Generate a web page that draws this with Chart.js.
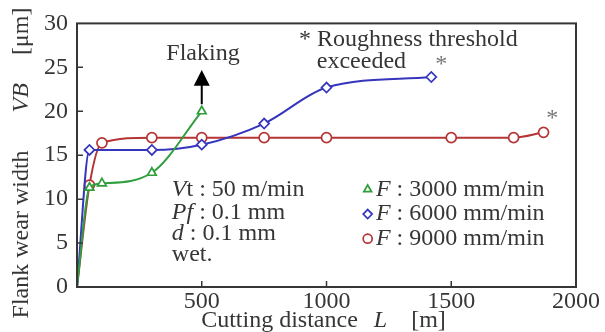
<!DOCTYPE html>
<html>
<head>
<meta charset="utf-8">
<script src="https://cdn.jsdelivr.net/npm/chart.js@4"></script>
<style>
  body { margin: 0; background: #fff; }
  #wrap { width: 605px; height: 332px; }
</style>
</head>
<body>
<div id="wrap"><canvas id="wearChart" width="605" height="332"></canvas></div>
<script>
// Data
const dist3000 = [0, 50, 100, 300, 500];
const wear3000 = [0, 11.3, 11.8, 13.0, 20.0];
const dist6000 = [0, 50, 300, 500, 750, 1000, 1420];
const wear6000 = [0, 15.6, 15.6, 16.2, 18.6, 22.7, 23.9];
const dist9000 = [0, 50, 100, 300, 500, 750, 1000, 1500, 1750, 1870];
const wear9000 = [0, 11.6, 16.4, 17.0, 17.0, 17.0, 17.0, 17.0, 17.0, 17.6];
const seriesLabels = ['3000 mm/min', '6000 mm/min', '9000 mm/min'];
const xTicks = [0, 500, 1000, 1500, 2000];
const yTicks = [0, 5, 10, 15, 20, 25, 30];

const GREEN = '#2f9e3c', BLUE = '#3535bd', RED = '#b53434', INK = '#363636';
const FONT = '"Liberation Serif", "DejaVu Serif", serif';

const toPoints = (xs, ys) => xs.map((x, i) => ({ x: x, y: ys[i] }));
// no marker on the origin point
const radii = n => Array.from({ length: n }, (_, i) => i === 0 ? 0 : 5);

function makeSet(label, xs, ys, color, style) {
    return {
        label: label,
        data: toPoints(xs, ys),
        borderColor: color,
        backgroundColor: '#fff',
        borderWidth: 2,
        pointStyle: style,
        pointRadius: radii(xs.length),
        pointBorderWidth: 1.7,
        pointBackgroundColor: '#fff',
        cubicInterpolationMode: 'monotone',
        fill: false
    };
}

// draws pieces of text (some italic) on one line; a number means a gap in px
function drawRuns(ctx, runs, x, y, align, size) {
    size = size || 24;
    const fontOf = r => (r[1] ? 'italic ' : '') + size + 'px ' + FONT;
    let total = 0;
    runs.forEach(r => {
        if (typeof r === 'number') { total += r; return; }
        ctx.font = fontOf(r);
        total += ctx.measureText(r[0]).width;
    });
    let cx = align === 'center' ? x - total / 2 : x;
    ctx.textAlign = 'left';
    ctx.textBaseline = 'middle';
    runs.forEach(r => {
        if (typeof r === 'number') { cx += r; return; }
        ctx.font = fontOf(r);
        ctx.fillText(r[0], cx, y);
        cx += ctx.measureText(r[0]).width;
    });
}

const extras = {
    id: 'extras',
    afterDatasetsDraw(chart) {
        const ctx = chart.ctx;
        const a = chart.chartArea;
        const xs = chart.scales.x, ys = chart.scales.y;
        const px = v => xs.getPixelForValue(v), py = v => ys.getPixelForValue(v);
        ctx.save();

        // frame
        ctx.strokeStyle = INK;
        ctx.lineWidth = 2;
        ctx.strokeRect(a.left, a.top, a.right - a.left, a.bottom - a.top);

        // inward tick marks
        ctx.lineWidth = 1.5;
        ctx.beginPath();
        yTicks.slice(1, -1).forEach(v => { ctx.moveTo(a.left, py(v)); ctx.lineTo(a.left + 6, py(v)); });
        xTicks.slice(1, -1).forEach(v => { ctx.moveTo(px(v), a.bottom); ctx.lineTo(px(v), a.bottom - 6); });
        ctx.stroke();

        ctx.fillStyle = INK;

        // axis titles
        drawRuns(ctx, [['Cutting distance', false], 16, ['L', true], 24, ['[m]', false]],
            (a.left + a.right) / 2 - 3, 321, 'center', 24);
        ctx.save();
        ctx.translate(22, 163);
        ctx.rotate(-Math.PI / 2);
        drawRuns(ctx, [['Flank wear width', false], 38, ['VB', true], 28, ['[μm]', false]],
            0, 0, 'center', 24);
        ctx.restore();

        // flaking note and arrow
        drawRuns(ctx, [['Flaking', false]], px(505), py(26.5), 'center');
        ctx.strokeStyle = '#000';
        ctx.fillStyle = '#000';
        ctx.lineWidth = 2;
        ctx.beginPath();
        ctx.moveTo(px(500), py(20.8));
        ctx.lineTo(px(500), py(23));
        ctx.stroke();
        ctx.beginPath();
        ctx.moveTo(px(500), py(24.7));
        ctx.lineTo(px(500) - 8, py(22.9));
        ctx.lineTo(px(500) + 8, py(22.9));
        ctx.closePath();
        ctx.fill();

        // roughness note
        ctx.fillStyle = INK;
        drawRuns(ctx, [['* Roughness threshold', false]], px(890), py(28.2), 'left');
        drawRuns(ctx, [['exceeded', false]], px(1140), py(25.6), 'center');
        ctx.fillStyle = '#777';
        drawRuns(ctx, [['*', false]], px(1460), py(25.3), 'center');
        drawRuns(ctx, [['*', false]], px(1905), py(19.2), 'center');

        // cutting conditions
        ctx.fillStyle = INK;
        const cx = px(380);
        drawRuns(ctx, [['V', true], ['t : 50 m/min', false]], cx, py(11.1), 'left');
        drawRuns(ctx, [['Pf', true], [' : 0.1 mm', false]], cx, py(8.5), 'left');
        drawRuns(ctx, [['d', true], [' : 0.1 mm', false]], cx, py(6.1), 'left');
        drawRuns(ctx, [['wet.', false]], cx, py(3.7), 'left');

        // legend
        const rows = [11.1, 8.3, 5.5];
        chart.data.datasets.forEach((ds, i) => {
            const y = py(rows[i]);
            const mx = px(1165);
            ctx.strokeStyle = ds.borderColor;
            ctx.fillStyle = '#fff';
            ctx.lineWidth = 1.7;
            Chart.helpers.drawPoint(ctx, { pointStyle: ds.pointStyle, radius: 4.5, rotation: 0, borderWidth: 1.7 }, mx, y);
            ctx.fillStyle = INK;
            drawRuns(ctx, [['F', true], [' : ' + seriesLabels[i], false]], px(1198), y, 'left');
        });

        ctx.restore();
    }
};

new Chart(document.getElementById('wearChart'), {
    type: 'line',
    data: {
        datasets: [
            makeSet(seriesLabels[0], dist3000, wear3000, GREEN, 'triangle'),
            makeSet(seriesLabels[1], dist6000, wear6000, BLUE, 'rectRot'),
            makeSet(seriesLabels[2], dist9000, wear9000, RED, 'circle')
        ]
    },
    options: {
        responsive: false,
        animation: false,
        layout: { padding: { top: 19, right: 29, left: 0, bottom: 0 } },
        plugins: { legend: { display: false }, tooltip: { enabled: false } },
        scales: {
            x: {
                type: 'linear',
                min: 0, max: 2000,
                afterBuildTicks: s => { s.ticks = xTicks.map(v => ({ value: v })); },
                afterFit: s => { s.height = 45; },
                grid: { display: false, drawTicks: false },
                border: { display: false },
                ticks: {
                    padding: 0,
                    color: INK,
                    font: { family: FONT, size: 24 },
                    maxRotation: 0,
                    callback: v => v === 0 ? '' : String(v)
                }
            },
            y: {
                min: 0, max: 30,
                afterBuildTicks: s => { s.ticks = yTicks.map(v => ({ value: v })); },
                afterFit: s => { s.width = 77; },
                grid: { display: false, drawTicks: false },
                border: { display: false },
                ticks: {
                    padding: 9,
                    color: INK,
                    font: { family: FONT, size: 24 }
                }
            }
        }
    },
    plugins: [extras]
});
</script>
</body>
</html>
